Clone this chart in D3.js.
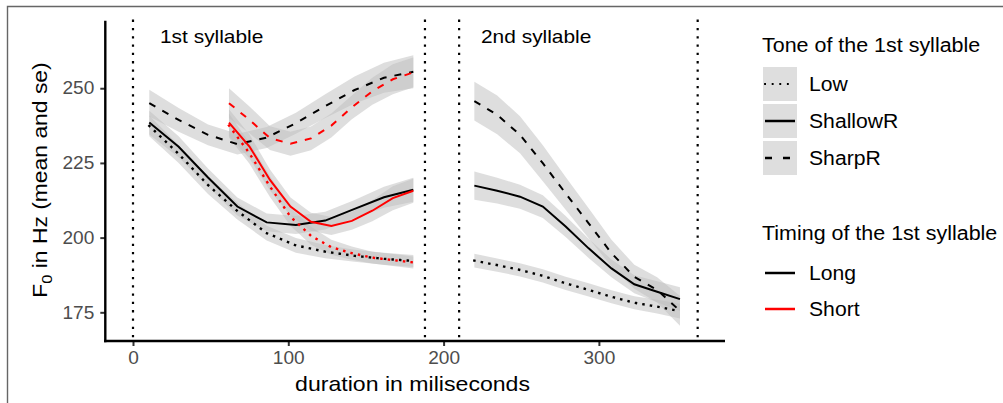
<!DOCTYPE html>
<html><head><meta charset="utf-8">
<script src="https://cdn.jsdelivr.net/npm/d3@7"></script>
<style>
body{margin:0;background:#fff;}
svg{display:block;font-family:"Liberation Sans",Arial,sans-serif;}
</style></head>
<body><svg id="c" width="1003" height="403"></svg>
<script>
// ---- data ----
const tones = ["Low", "ShallowR", "SharpR"];
const timings = ["Long", "Short"];
const xTicks = [0, 100, 200, 300];
const yTicks = [175, 200, 225, 250];
const boundaries = [0, 188, 210, 363.6];

const timeLong1 = [10.5, 29.4, 48.3, 67.2, 86.1, 104.9, 123.8, 142.7, 161.6, 180.5];
const timeShort1 = [61.8, 75.0, 88.2, 101.4, 114.6, 127.7, 140.9, 154.1, 167.3, 180.5];
const timeLong2 = [219.8, 234.5, 249.2, 263.9, 278.6, 293.4, 308.1, 322.8, 337.5, 352.2];

const f0LongLow1 = [237.4, 228.0, 217.6, 208.9, 201.5, 197.4, 195.3, 193.9, 192.9, 192.2];
const f0LongShallowR1 = [238.5, 230.4, 220.1, 210.4, 205.1, 204.2, 205.7, 209.6, 213.5, 216.0];
const f0LongSharpR1 = [245.0, 239.4, 234.4, 231.3, 233.5, 238.3, 244.0, 249.4, 253.5, 255.5];
const f0ShortLow1 = [237.5, 228.2, 217.1, 207.0, 200.6, 196.8, 194.8, 193.3, 192.5, 191.7];
const f0ShortShallowR1 = [238.5, 230.5, 219.3, 210.4, 205.3, 203.9, 205.6, 209.0, 213.2, 215.7];
const f0ShortSharpR1 = [245.0, 239.4, 233.3, 231.4, 233.2, 237.5, 243.6, 249.0, 253.0, 255.3];
const f0LongLow2 = [192.3, 190.8, 189.2, 187.2, 184.7, 182.5, 180.2, 178.2, 176.9, 175.4];
const f0LongShallowR2 = [217.4, 215.7, 213.7, 210.4, 203.7, 196.4, 189.7, 184.4, 181.9, 179.4];
const f0LongSharpR2 = [245.7, 241.1, 234.4, 224.9, 214.8, 204.8, 194.8, 186.9, 182.5, 175.5];

const seLongLow1 = [3.5, 3.0, 3.0, 2.8, 2.5, 2.5, 2.2, 2.0, 2.0, 2.0];
const seLongShallowR1 = [4.0, 3.5, 3.0, 3.0, 3.0, 3.0, 3.0, 3.0, 3.5, 4.0];
const seLongSharpR1 = [4.5, 4.0, 3.5, 3.5, 3.5, 3.5, 4.0, 4.5, 5.0, 5.5];
const seShortLow1 = [4.0, 3.5, 3.5, 3.0, 3.0, 2.5, 2.2, 2.0, 2.0, 2.0];
const seShortShallowR1 = [4.5, 4.0, 3.5, 3.0, 3.0, 3.0, 3.0, 3.5, 4.0, 4.0];
const seShortSharpR1 = [5.0, 4.5, 4.0, 4.0, 4.0, 4.0, 4.0, 4.5, 5.0, 5.0];
const seLongLow2 = [2.3, 2.2, 2.2, 2.2, 2.2, 2.2, 2.2, 2.2, 2.3, 2.5];
const seLongShallowR2 = [4.7, 4.3, 4.0, 3.8, 3.5, 3.2, 3.0, 3.0, 3.5, 4.0];
const seLongSharpR2 = [6.5, 6.5, 6.2, 6.0, 5.5, 5.0, 4.5, 4.0, 4.2, 5.0];

// table built from the arrays
const series = [
  {tone:"Low", timing:"Long", t:timeLong1, f:f0LongLow1, se:seLongLow1},
  {tone:"ShallowR", timing:"Long", t:timeLong1, f:f0LongShallowR1, se:seLongShallowR1},
  {tone:"SharpR", timing:"Long", t:timeLong1, f:f0LongSharpR1, se:seLongSharpR1},
  {tone:"Low", timing:"Short", t:timeShort1, f:f0ShortLow1, se:seShortLow1},
  {tone:"ShallowR", timing:"Short", t:timeShort1, f:f0ShortShallowR1, se:seShortShallowR1},
  {tone:"SharpR", timing:"Short", t:timeShort1, f:f0ShortSharpR1, se:seShortSharpR1},
  {tone:"Low", timing:"Long", t:timeLong2, f:f0LongLow2, se:seLongLow2},
  {tone:"ShallowR", timing:"Long", t:timeLong2, f:f0LongShallowR2, se:seLongShallowR2},
  {tone:"SharpR", timing:"Long", t:timeLong2, f:f0LongSharpR2, se:seLongSharpR2}
];

// ---- styles ----
const dashFor = {Low:"0.1 7.5", ShallowR:null, SharpR:"7 8"};
const colorFor = {Long:"#000000", Short:"#ff0000"};
const ribbonFill = "#bdbdbd", ribbonOpacity = 0.5;
const STRETCH = 1.1;
function stretch(sel, k){
  sel.each(function(){
    const l = this.getComputedTextLength();
    d3.select(this).attr("textLength", l*k).attr("lengthAdjust","spacingAndGlyphs");
  });
}

const svg = d3.select("#c");
// outer frame (top & left edges)
svg.append("path").attr("d","M7.5,403 V6.5 H1003").attr("fill","none").attr("stroke","#666").attr("stroke-width",1.4);

const P = {l:104, r:725, t:20.7, b:341};
const x = d3.scaleLinear().domain([-18.67, 381.2]).range([P.l, P.r]);
const y = d3.scaleLinear().domain([165.4, 272.6]).range([P.b, P.t]);

// ribbons
const area = d3.area().x(d=>x(d.t)).y0(d=>y(d.f-d.se)).y1(d=>y(d.f+d.se));
const line = d3.line().x(d=>x(d.t)).y(d=>y(d.f));
const pts = s => s.t.map((t,i)=>({t:t, f:s.f[i], se:s.se[i]}));

svg.append("g").selectAll("path").data(series).join("path")
  .attr("d", s=>area(pts(s))).attr("fill", ribbonFill).attr("fill-opacity", ribbonOpacity);

// boundary lines
svg.append("g").selectAll("line").data(boundaries).join("line")
  .attr("x1", d=>x(d)).attr("x2", d=>x(d)).attr("y1", P.t).attr("y2", P.b)
  .attr("stroke","#000").attr("stroke-width",2.2).attr("stroke-dasharray","0.1 8.2").attr("stroke-linecap","square");

// lines
svg.append("g").selectAll("path").data(series).join("path")
  .attr("d", s=>line(pts(s))).attr("fill","none")
  .attr("stroke", s=>colorFor[s.timing]).attr("stroke-width", s=>s.tone==="Low"?2.4:2)
  .attr("stroke-linecap", s=>s.tone==="Low"?"square":"butt")
  .attr("stroke-dasharray", s=>dashFor[s.tone]);

// axes
const gx = svg.append("g").attr("transform",`translate(0,${P.b})`)
  .call(d3.axisBottom(x).tickValues(xTicks).tickSize(5).tickPadding(5).tickFormat(d3.format("d")));
const gy = svg.append("g").attr("transform",`translate(${P.l+1.3},0)`)
  .call(d3.axisLeft(y).tickValues(yTicks).tickSize(5).tickPadding(6).tickFormat(d3.format("d")));
[gx,gy].forEach(g=>{
  g.select(".domain").remove();
  g.selectAll(".tick line").attr("stroke","#333").attr("stroke-width",2);
  g.selectAll(".tick text").attr("fill","#4d4d4d").style("font-size","18px").style("font-family","Liberation Sans, Arial, sans-serif");
  stretch(g.selectAll(".tick text"), 1.06);
});
svg.append("line").attr("x1",P.l).attr("x2",P.r).attr("y1",P.b).attr("y2",P.b).attr("stroke","#000").attr("stroke-width",2.4);
svg.append("line").attr("x1",P.l+1.3).attr("x2",P.l+1.3).attr("y1",P.t).attr("y2",P.b+1.2).attr("stroke","#000").attr("stroke-width",2.4);

const texts = svg.append("g");
// panel labels
texts.append("text").attr("x",160).attr("y",43).text("1st syllable").style("font-size","19px");
texts.append("text").attr("x",481).attr("y",43).text("2nd syllable").style("font-size","19px");

// axis titles
texts.append("text").attr("x", x(180)).attr("y",391).attr("text-anchor","middle").style("font-size","21px").text("duration in miliseconds");
const yt = svg.append("text").attr("transform","translate(47,180) rotate(-90) scale(1.09,1)").attr("text-anchor","middle").style("font-size","21px");
yt.append("tspan").text("F");
yt.append("tspan").attr("dy",5).style("font-size","15px").text("0");
yt.append("tspan").attr("dy",-5).text(" in Hz (mean and se)");

// legend 1: tone
const L = svg.append("g");
texts.append("text").attr("x",762).attr("y",52).style("font-size","19.5px").text("Tone of the 1st syllable");
const lg1 = L.selectAll("g.k1").data(tones).join("g").attr("class","k1")
  .attr("transform",(d,i)=>`translate(763,${67+i*37})`);
lg1.append("rect").attr("width",34).attr("height",34).attr("fill",ribbonFill).attr("fill-opacity",ribbonOpacity);
lg1.append("line").attr("x1",2).attr("x2",32).attr("y1",17).attr("y2",17).attr("stroke","#000")
  .attr("stroke-width",d=>d==="Low"?1.8:2.5).attr("stroke-linecap",d=>d==="Low"?"square":"butt")
  .attr("stroke-dasharray",d=>d==="Low"?"0.1 7.5":(d==="SharpR"?"7 11":null));
lg1.append("text").attr("x",46).attr("y",24).style("font-size","19.5px").text(d=>d);

// legend 2: timing
texts.append("text").attr("x",762).attr("y",240).style("font-size","19.5px").text("Timing of the 1st syllable");
const lg2 = L.selectAll("g.k2").data(timings).join("g").attr("class","k2")
  .attr("transform",(d,i)=>`translate(763,${256+i*36})`);
lg2.append("line").attr("x1",2).attr("x2",32).attr("y1",17).attr("y2",17).attr("stroke",d=>colorFor[d]).attr("stroke-width",2.5);
lg2.append("text").attr("x",46).attr("y",24).style("font-size","19.5px").text(d=>d);

stretch(texts.selectAll("text"), STRETCH);
stretch(L.selectAll("text"), 1.085);
</script></body></html>
